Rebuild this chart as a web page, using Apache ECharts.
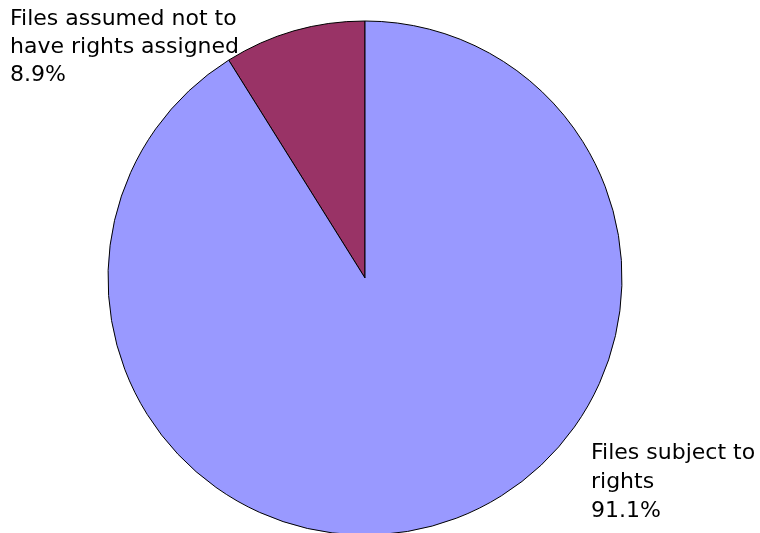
<!DOCTYPE html>
<html>
<head>
<meta charset="utf-8">
<script src="https://cdn.jsdelivr.net/npm/echarts@6/dist/echarts.min.js"></script>
<style>html,body{margin:0;padding:0;background:#fff}#c{width:760px;height:533px}</style>
</head>
<body>
<div id="c"></div>
<script>
var categories = ['Files assumed not to\nhave rights assigned', 'Files subject to\nrights'];
var values = [8.9, 91.1];
var colors = ['#993366', '#9999FF'];
var labelLineHeights = [28, 29];

var chart = echarts.init(document.getElementById('c'), null, {renderer: 'canvas'});
chart.setOption({
  animation: false,
  series: [{
    type: 'pie',
    center: [365, 278],
    radius: 257,
    startAngle: 90,
    clockwise: false,
    data: categories.map(function (n, i) {
      return {name: n, value: values[i], itemStyle: {color: colors[i]}, label: {lineHeight: labelLineHeights[i]}};
    }),
    itemStyle: {borderColor: '#000', borderWidth: 1},
    emphasis: {disabled: true},
    labelLine: {show: false},
    label: {
      show: true,
      position: 'outside',
      formatter: '{b}\n{c}%',
      fontFamily: 'DejaVu Sans',
      fontSize: 22,
      color: '#000'
    },
    labelLayout: function (p) {
      if (p.dataIndex === 0) {
        return {x: 10, y: 5.5, align: 'left', verticalAlign: 'top'};
      }
      return {x: 591, y: 439, align: 'left', verticalAlign: 'top'};
    }
  }]
});
</script>
</body>
</html>
